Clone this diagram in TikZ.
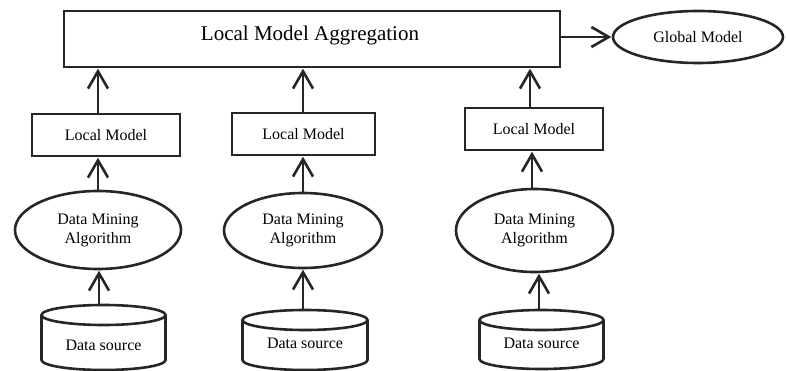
\documentclass[tikz,border=0pt]{standalone}
\usepackage{fontspec}
\setmainfont{Liberation Serif}
\usetikzlibrary{shapes.geometric,calc}
\newcommand\dbdraw[4]{%
  \draw[line] ($(#1)+(-#2,#3)$) -- ($(#1)+(-#2,#4)$)
    arc[start angle=180,end angle=360,x radius=#2pt,y radius=10pt]
    -- ($(#1)+(#2,#3)$);
  \draw[line] ($(#1)+(0,#3)$) ellipse[x radius=#2pt,y radius=10pt];
}
\newcommand\barbarrow[2]{%
  \draw[line] (#1) -- (#2);
  \draw[line, line join=miter] ($(#2)!20pt!30:(#1)$) -- (#2) -- ($(#2)!20pt!-30:(#1)$);
}
\begin{document}
\begin{tikzpicture}[x=1pt,y=1pt,
  line/.style={draw=black!85, line width=2.6pt},
  rbox/.style={line, rectangle, inner sep=0pt, font=\fontsize{16}{19}\selectfont},
  oval/.style={line, ellipse, inner sep=0pt, font=\fontsize{16}{19}\selectfont, align=center},
  dbtext/.style={inner sep=0pt, font=\fontsize{16}{19}\selectfont},
]
\useasboundingbox (0,0) rectangle (786,-371);

% top aggregation box
\node[rbox, minimum width=496pt, minimum height=56pt] (agg) at (312,-39) {};
\node[inner sep=0pt, font=\fontsize{21}{25}\selectfont] (aggtext) at (310,-35) {Local Model Aggregation};
\node[oval, minimum width=170pt, minimum height=52pt] (global) at (698,-37) {Global Model};

% local models
\node[rbox, minimum width=148pt, minimum height=42pt] (lm1) at (106,-135) {Local Model};
\node[rbox, minimum width=143pt, minimum height=42pt] (lm2) at (303.5,-134) {Local Model};
\node[rbox, minimum width=138pt, minimum height=42pt] (lm3) at (534,-129) {Local Model};

% data mining algorithms
\node[oval, minimum width=166pt, minimum height=78pt] (dm1) at (98,-230) {Data Mining\\Algorithm};
\node[oval, minimum width=158pt, minimum height=75pt] (dm2) at (303,-230.5) {Data Mining\\Algorithm};
\node[oval, minimum width=157pt, minimum height=83pt] (dm3) at (534.5,-230.5) {Data Mining\\Algorithm};

% data sources
\node[dbtext] (c1) at (103.5,-345) {Data source};
\node[dbtext] (c2) at (305,-343) {Data source};
\node[dbtext] (c3) at (541.5,-343) {Data source};
\dbdraw{c1}{62}{30}{-15}
\dbdraw{c2}{62.5}{23}{-17}
\dbdraw{c3}{62}{23}{-16}

% connector end points
\coordinate (g0) at (agg.east |- global.west);
\coordinate (g1) at ($(global.west)+(-3,0)$);
\coordinate (u1s) at (lm1.north -| dm1);
\coordinate (u1e) at ($(agg.south -| dm1)+(0,-3)$);
\coordinate (u2s) at (lm2.north -| dm2);
\coordinate (u2e) at ($(agg.south -| dm2)+(0,-3)$);
\coordinate (u3s) at ($(lm3.north)+(-4,0)$);
\coordinate (u3e) at ($(u3s |- agg.south)+(0,-3)$);
\coordinate (m1s) at (dm1.north);
\coordinate (m1e) at ($(lm1.south -| dm1)+(0,-3)$);
\coordinate (m2s) at (dm2.north);
\coordinate (m2e) at ($(lm2.south -| dm2)+(0,-3)$);
\coordinate (m3s) at ($(dm3.north)+(-2.5,0)$);
\coordinate (m3e) at ($(m3s |- lm3.south)+(0,-3)$);
\coordinate (d1s) at ($(c1)+(-4.5,40)$);
\coordinate (d1e) at ($(d1s |- dm1.south)+(0,-3)$);
\coordinate (d2s) at ($(c2)+(-2,33)$);
\coordinate (d2e) at ($(d2s |- dm2.south)+(0,-3)$);
\coordinate (d3s) at ($(c3)+(-2.5,33)$);
\coordinate (d3e) at ($(d3s |- dm3.south)+(0,-3)$);

% connectors
\barbarrow{g0}{g1}
\barbarrow{u1s}{u1e}
\barbarrow{u2s}{u2e}
\barbarrow{u3s}{u3e}
\barbarrow{m1s}{m1e}
\barbarrow{m2s}{m2e}
\barbarrow{m3s}{m3e}
\barbarrow{d1s}{d1e}
\barbarrow{d2s}{d2e}
\barbarrow{d3s}{d3e}
\end{tikzpicture}
\end{document}
